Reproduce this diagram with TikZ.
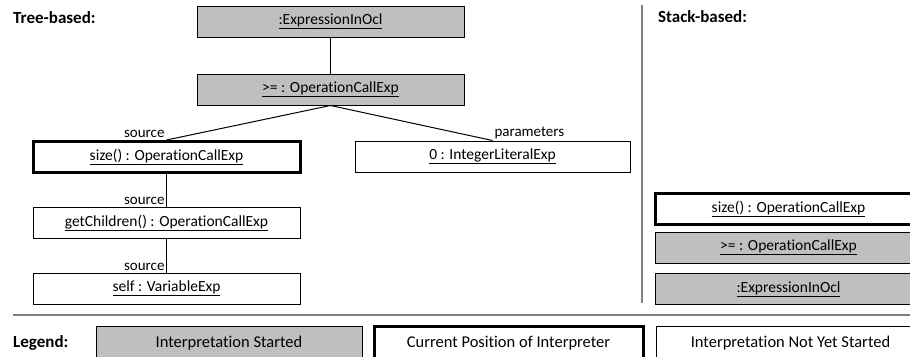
\documentclass[tikz,border=0pt]{standalone}
\usepackage{fontspec}
\setmainfont{Carlito}[Ligatures=NoCommon]
\usetikzlibrary{positioning}
\usetikzlibrary{calc}

\definecolor{started}{RGB}{191,191,191}
\definecolor{divider}{RGB}{128,128,128}

\tikzset{
  obj/.style={draw=black,line width=1pt,minimum width=267pt,minimum height=31pt,
              inner sep=0pt,font=\fontsize{15.5}{17}\selectfont},
  started/.style={obj,fill=started},
  current/.style={obj,line width=3pt},
  role/.style={font=\fontsize{15}{17}\selectfont,inner sep=1.5pt},
  heading/.style={font=\fontsize{17}{19}\selectfont\bfseries,anchor=west,inner sep=0pt},
  key/.style={minimum height=34pt,font=\fontsize{16.5}{18}\selectfont}
}

\begin{document}
\begin{tikzpicture}[x=1pt,y=-1pt]

\clip (0,0) rectangle (910,356);

\node[heading] (tree)  at (13,18) {Tree-based:};
\node[heading] (stack) at (658,17) {Stack-based:};

% tree
\node[started] (expr)     at (330.5, 21.5) {\underline{:ExpressionInOcl}};
\node[started] (geq)      at (330.5, 89.5) {\underline{>= : OperationCallExp}};
\node[current] (size)     at (166.5,157.0) {\underline{size() : OperationCallExp}};
\node[obj,minimum width=275pt] (zero) at (492.5,156.5) {\underline{0 : IntegerLiteralExp}};
\node[obj]     (children) at (166.5,223.0) {\underline{getChildren() : OperationCallExp}};
\node[obj]     (self)     at (166.5,288.5) {\underline{self : VariableExp}};

\draw[line width=1pt] (expr) -- (geq);
\draw[line width=1pt] (geq.south) -- (size.north)
  node[role,pos=1,anchor=south east] {source};
\draw[line width=1pt] (geq.south) -- (zero.north)
  node[role,pos=1,anchor=south west] {parameters};
\draw[line width=1pt] (size) -- (children)
  node[role,pos=1,anchor=south east] {source};
\draw[line width=1pt] (children) -- (self)
  node[role,pos=1,anchor=south east] {source};

% stack
\node[current] (ssize) at (788.5,209.0) {\underline{size() : OperationCallExp}};
\node[started] (sgeq)  at (788.5,247.5) {\underline{>= : OperationCallExp}};
\node[started] (sexpr) at (788.5,289.0) {\underline{:ExpressionInOcl}};

\coordinate (dtop) at (642,5);
\coordinate (dbot) at (642,303);
\draw[divider,line width=1.5pt] (dtop) -- (dbot);

% legend
\coordinate (hl) at (13,315);
\coordinate (hr) at (910,315);
\draw[divider,line width=1.5pt] (hl) -- (hr);

\node[heading] (legend) at (13,343) {Legend:};
\node[started,key,minimum width=266pt] (lstarted) at (229.0,343) {Interpretation Started};
\node[current,key,minimum width=269pt] (lcurrent) at (508.5,343) {Current Position of Interpreter};
\node[obj,key,minimum width=269pt]     (lnotyet)  at (790.5,343) {Interpretation Not Yet Started};

\end{tikzpicture}
\end{document}
